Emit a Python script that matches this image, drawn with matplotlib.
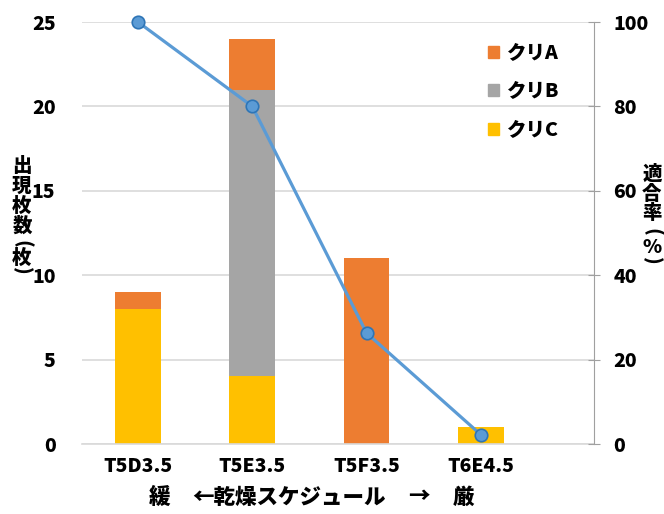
import matplotlib
matplotlib.use("Agg")
import matplotlib.pyplot as plt
from matplotlib.patches import Patch
import numpy as np

plt.rcParams['font.family'] = ['Noto Sans CJK JP', 'DejaVu Sans']
plt.rcParams['font.weight'] = 'bold'

categories = ["T5D3.5", "T5E3.5", "T5F3.5", "T6E4.5"]
kuri_c = [8, 4, 0, 1]
kuri_b = [0, 17, 0, 0]
kuri_a = [1, 3, 11, 0]
rate = [100, 80, 26.3, 2.2]
left_ticks = [0, 5, 10, 15, 20, 25]
right_ticks = [0, 20, 40, 60, 80, 100]

c_a = "#ED7D31"
c_b = "#A5A5A5"
c_c = "#FFC000"
W = 'heavy'

fig = plt.figure(figsize=(6.64, 5.14), dpi=100)
ax = fig.add_axes([82/664, 1-444/514, (594-82)/664, (444-22)/514])
x = np.arange(len(categories))
w = 0.4
bc = np.array(kuri_c, dtype=float)
bb = np.array(kuri_b, dtype=float)
ba = np.array(kuri_a, dtype=float)
ax.bar(x, bc, w, color=c_c, zorder=2)
ax.bar(x, bb, w, bottom=bc, color=c_b, zorder=2)
ax.bar(x, ba, w, bottom=bc+bb, color=c_a, zorder=2)

ax.set_xlim(-0.49, 3.99)
ax.set_ylim(0, 25)
ax.set_yticks(left_ticks)
ax.set_yticklabels([str(t) for t in left_ticks], fontsize=14, fontweight=W)
ax.set_xticks(x)
ax.set_xticklabels(categories, fontsize=14, fontweight=W)
ax.tick_params(axis='y', length=0, pad=19)
ax.tick_params(axis='x', length=0, pad=9)
ax.grid(axis='y', color='#D9D9D9', linewidth=1.2, zorder=0)
for s in ['top', 'left', 'right']:
    ax.spines[s].set_visible(False)
ax.spines['bottom'].set_color('#D9D9D9')
ax.spines['bottom'].set_linewidth(1.2)

ax2 = ax.twinx()
ax2.set_ylim(0, 100)
ax2.set_yticks(right_ticks)
ax2.set_yticklabels([str(t) for t in right_ticks], fontsize=14, fontweight=W)
ax2.plot(x, rate, color='#5B9BD5', linewidth=2.3, marker='o', markersize=9,
         markerfacecolor='#5B9BD5', markeredgecolor='#2E75B6', markeredgewidth=1.2,
         zorder=5, clip_on=False)
for s in ['top', 'left', 'bottom']:
    ax2.spines[s].set_visible(False)
ax2.spines['right'].set_color('#A0A0A0')
ax2.tick_params(axis='y', direction='inout', length=8, color='#A0A0A0', pad=10)

handles = [Patch(color=c_a, label='クリA'), Patch(color=c_b, label='クリB'), Patch(color=c_c, label='クリC')]
leg = ax2.legend(handles=handles, loc='upper left', bbox_to_anchor=((478-82)/512, (444-34)/422),
           frameon=False, handlelength=0.6, handleheight=0.6,
           handletextpad=0.4, labelspacing=1.0, borderpad=0,
           prop={'size': 14, 'weight': W})


def vlabel(xc, items):
    for ch, yc, rot in items:
        fig.text(xc/664, 1-yc/514, ch, ha='center', va='center', fontsize=14,
                 fontweight=W, rotation=rot)


vlabel(22, [("出", 166, 0), ("現", 186, 0), ("枚", 206, 0), ("数", 226, 0),
            ("(", 244, -90), ("枚", 258, 0), (")", 271, -90)])
vlabel(652, [("適", 174, 0), ("合", 194, 0), ("率", 213, 0),
             ("(", 232, -90), ("%", 247, 0), (")", 261, -90)])

for txt, xc in [("緩", 160), ("←乾燥スケジュール", 289), ("→", 419), ("厳", 463)]:
    fig.text(xc/664, 1-497/514, txt, ha='center', va='center',
             fontsize=15.5, fontweight=W)

fig.savefig("out.png", dpi=100)
